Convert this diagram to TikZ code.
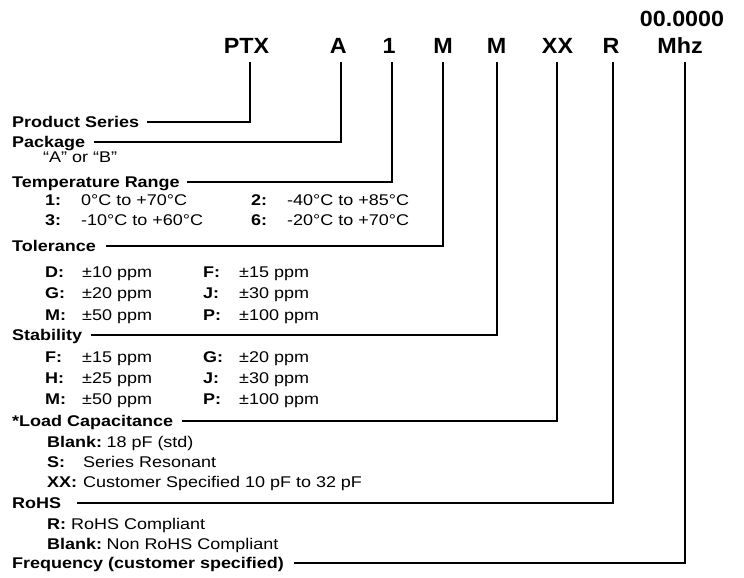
\documentclass[tikz,border=0pt]{standalone}
\usepackage{fontspec}
\setmainfont{Liberation Sans}[FakeStretch=1.16]
\newfontfamily\topfont{Liberation Sans}[FakeStretch=1.06]
\begin{document}
\begin{tikzpicture}[x=1pt,y=-1pt,
  lbl/.style={anchor=base west, inner sep=0pt, text height=10pt, text depth=0pt,
    font=\fontsize{15.5}{18}\selectfont\bfseries},
  itm/.style={anchor=base west, inner sep=0pt, font=\fontsize{15.5}{18}\selectfont},
  key/.style={anchor=base west, inner sep=0pt, font=\fontsize{15.5}{18}\selectfont\bfseries},
  code/.style={anchor=base, inner sep=0pt, font=\topfont\fontsize{22}{26}\selectfont\bfseries},
  lead/.style={line width=1.9pt, draw=black}]
\useasboundingbox (0,0) rectangle (744,578);

% ---- part number header ----
\node[code] (hz)   at (682,27) {00.0000};
\node[code] (pPTX) at (246.5,53) {PTX};
\node[code] (pA)   at (338.3,53) {A};
\node[code] (p1)   at (389,53) {1};
\node[code] (pM1)  at (443,53) {M};
\node[code] (pM2)  at (496.7,53) {M};
\node[code] (pXX)  at (557.5,53) {XX};
\node[code] (pR)   at (611,53) {R};
\node[code] (pMhz) at (680,53) {Mhz};

\coordinate (tPTX) at (250,62);
\coordinate (tA)   at (340.7,62);
\coordinate (t1)   at (391.7,62);
\coordinate (tM1)  at (442.7,62);
\coordinate (tM2)  at (496.7,62);
\coordinate (tXX)  at (556.7,62);
\coordinate (tR)   at (613,62);
\coordinate (tMhz) at (685,62);

% ---- field labels ----
\node[lbl] (ps)   at (12,127) {Product Series};
\node[lbl] (pk)   at (12,147) {Package};
\node[lbl] (tr)   at (12,187) {Temperature Range};
\node[lbl] (tol)  at (12,251) {Tolerance};
\node[lbl] (stab) at (12,340) {Stability};
\node[lbl] (lc)   at (12,426) {*Load Capacitance};
\node[lbl] (rohs) at (12,508) {RoHS};
\node[lbl] (freq) at (12,568) {Frequency (customer specified)};

% ---- leaders ----
\draw[lead] ([xshift=8pt]ps.east)    -| (tPTX);
\draw[lead] ([xshift=9pt]pk.east)    -| (tA);
\draw[lead] ([xshift=7pt]tr.east)    -| (t1);
\draw[lead] ([xshift=10pt]tol.east)  -| (tM1);
\draw[lead] ([xshift=9pt]stab.east)  -| (tM2);
\draw[lead] ([xshift=9pt]lc.east)    -| (tXX);
\draw[lead] ([xshift=16pt]rohs.east) -| (tR);
\draw[lead] ([xshift=10pt]freq.east) -| (tMhz);

% ---- package ----
\node[itm] (ab) at (43,162) {“A” or “B”};

% ---- temperature ----
\node[key] (k1) at (45,205) {1:};  \node[itm] (v1) at (81,205) {0°C to +70°C};
\node[key] (k2) at (251,205) {2:}; \node[itm] (v2) at (287,205) {-40°C to +85°C};
\node[key] (k3) at (45,225) {3:};  \node[itm] (v3) at (81,225) {-10°C to +60°C};
\node[key] (k6) at (251,225) {6:}; \node[itm] (v6) at (287,225) {-20°C to +70°C};

% ---- tolerance ----
\node[key] (tD) at (45,277)  {D:}; \node[itm] (tDv) at (82,277)  {±10 ppm};
\node[key] (tF) at (203,277) {F:}; \node[itm] (tFv) at (239,277) {±15 ppm};
\node[key] (tG) at (45,298)  {G:}; \node[itm] (tGv) at (82,298)  {±20 ppm};
\node[key] (tJ) at (203,298) {J:}; \node[itm] (tJv) at (239,298) {±30 ppm};
\node[key] (tM) at (45,320)  {M:}; \node[itm] (tMv) at (82,320)  {±50 ppm};
\node[key] (tP) at (203,320) {P:}; \node[itm] (tPv) at (239,320) {±100 ppm};

% ---- stability ----
\node[key] (sF) at (45,362)  {F:}; \node[itm] (sFv) at (82,362)  {±15 ppm};
\node[key] (sG) at (203,362) {G:}; \node[itm] (sGv) at (239,362) {±20 ppm};
\node[key] (sH) at (45,383)  {H:}; \node[itm] (sHv) at (82,383)  {±25 ppm};
\node[key] (sJ) at (203,383) {J:}; \node[itm] (sJv) at (239,383) {±30 ppm};
\node[key] (sM) at (45,404)  {M:}; \node[itm] (sMv) at (82,404)  {±50 ppm};
\node[key] (sP) at (203,404) {P:}; \node[itm] (sPv) at (239,404) {±100 ppm};

% ---- load capacitance ----
\node[key] (lB) at (47,447) {Blank:}; \node[itm] (lBv) at ([xshift=4pt]lB.base east) {18 pF (std)};
\node[key] (lS) at (47,467) {S:};     \node[itm] (lSv) at (83,467)  {Series Resonant};
\node[key] (lX) at (47,487) {XX:};    \node[itm] (lXv) at (83,487)  {Customer Specified 10 pF to 32 pF};

% ---- RoHS ----
\node[key] (rR) at (47,529) {R:};     \node[itm] (rRv) at (71,529)  {RoHS Compliant};
\node[key] (rB) at (47,549) {Blank:}; \node[itm] (rBv) at ([xshift=4pt]rB.base east) {Non RoHS Compliant};
\end{tikzpicture}
\end{document}
